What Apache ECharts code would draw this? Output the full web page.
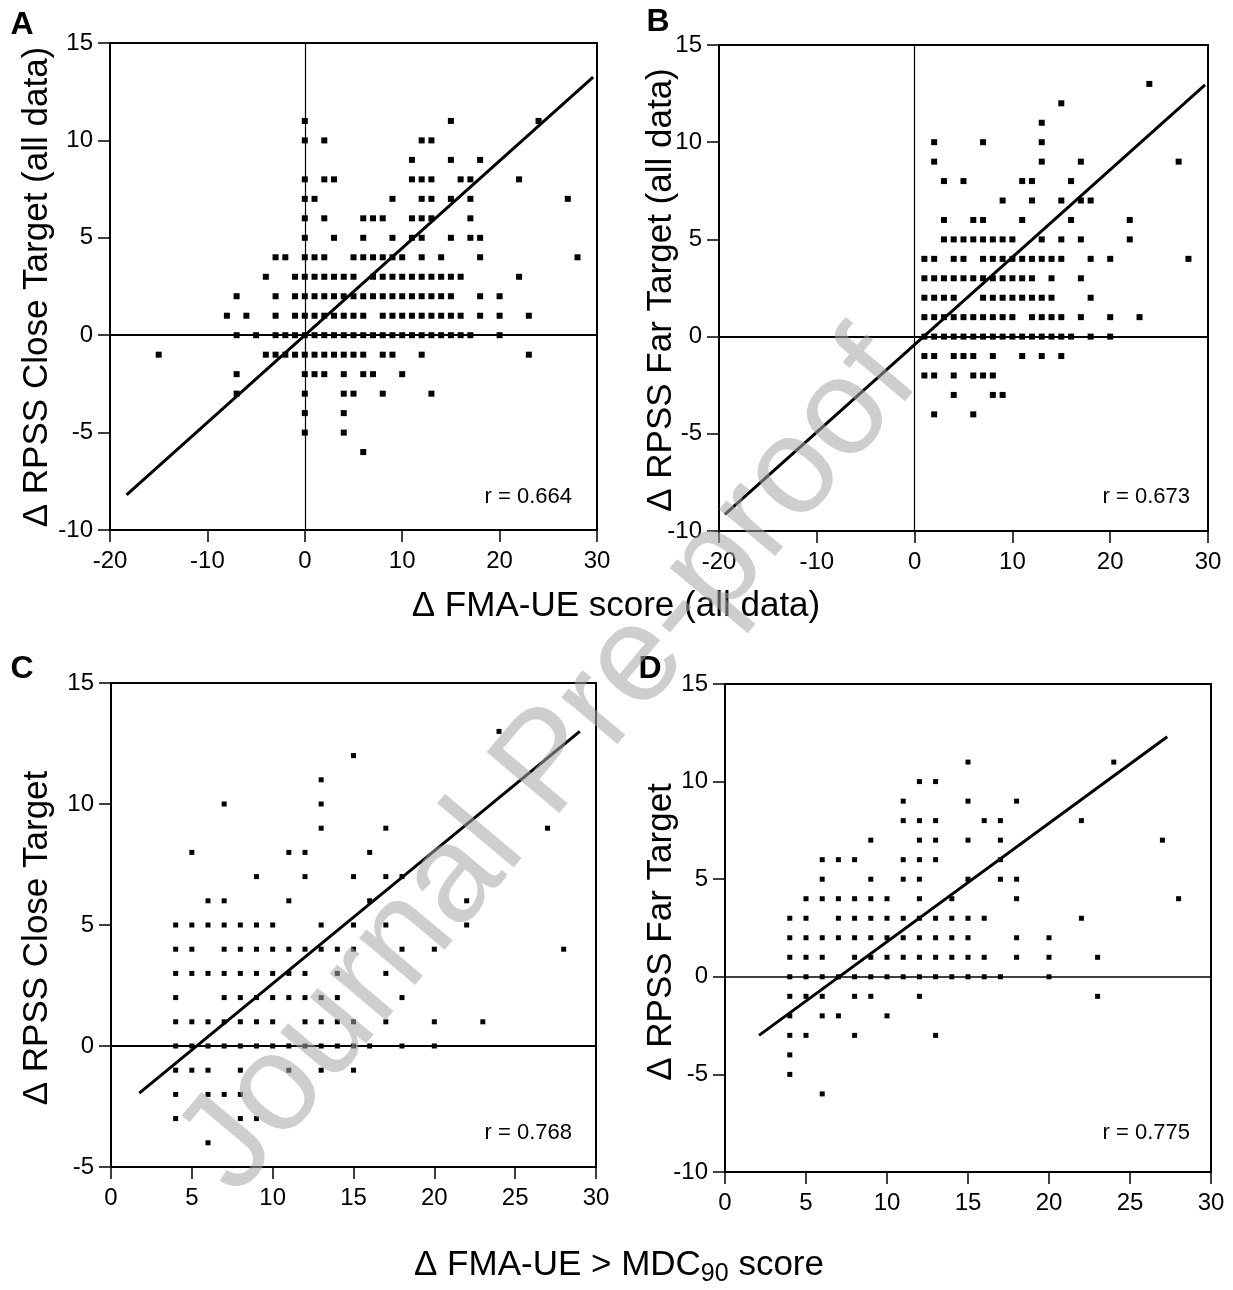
<!DOCTYPE html>
<html><head><meta charset="utf-8">
<script src="https://cdn.jsdelivr.net/npm/echarts@6/dist/echarts.min.js"></script>
<style>html,body{margin:0;padding:0;background:#fff}#c{width:1233px;height:1290px}</style>
</head><body><div id="c"></div>
<script>
const FONT = '"Liberation Sans", Arial, Helvetica, sans-serif';

// ---- DATA: each row = [y value, list of x values] ----
const rowsA = [
  [11, [0,15,24]],
  [10, [0,2,12,13]],
  [9,  [11,15,18]],
  [8,  [0,2,3,11,12,13,16,17,22]],
  [7,  [0,1,9,12,13,15,17,27]],
  [6,  [0,2,6,7,8,11,12,13,17]],
  [5,  [0,3,6,9,11,12,15,17,18]],
  [4,  [-3,-2,0,1,2,5,6,7,8,9,10,12,14,18,28]],
  [3,  [-4,-1,0,1,2,3,4,5,7,8,9,10,11,12,13,14,15,16,22]],
  [2,  [-7,-3,-1,0,1,2,3,4,5,6,7,8,9,10,11,12,13,14,15,18,20]],
  [1,  [-8,-6,-3,-1,0,1,2,3,4,5,6,8,9,10,11,12,13,14,15,16,18,20,23]],
  [0,  [-7,-5,-3,-2,-1,0,1,2,3,4,5,6,7,8,9,10,11,12,13,14,15,16,17,20]],
  [-1, [-15,-4,-3,-2,-1,0,1,2,3,4,5,6,8,9,12,23]],
  [-2, [-7,0,1,2,4,6,7,10]],
  [-3, [-7,0,4,5,8,13]],
  [-4, [0,4]],
  [-5, [0,4]],
  [-6, [6]]
];
const rowsB = [
  [13, [24]],
  [12, [15]],
  [11, [13]],
  [10, [2,7,13]],
  [9,  [2,13,17,27]],
  [8,  [3,5,11,12,16]],
  [7,  [9,12,15,17,18]],
  [6,  [3,6,7,11,16,22]],
  [5,  [3,4,5,6,7,8,9,10,13,15,17,22]],
  [4,  [1,2,4,5,7,8,9,10,11,12,13,14,15,18,20,28]],
  [3,  [1,2,3,4,5,6,7,8,9,10,11,12,14,17]],
  [2,  [1,2,3,4,7,8,9,10,11,12,13,14,18]],
  [1,  [1,2,3,4,5,6,7,8,9,10,12,13,14,15,17,20,23]],
  [0,  [1,2,3,4,5,6,7,8,9,10,11,12,13,14,15,16,18,20]],
  [-1, [1,2,4,5,6,8,11,13,15]],
  [-2, [1,2,4,6,7,8]],
  [-3, [4,8,9]],
  [-4, [2,6]]
];
const rowsC = [
  [13, [24]],
  [12, [15]],
  [11, [13]],
  [10, [7,13]],
  [9,  [13,17,27]],
  [8,  [5,11,12,16]],
  [7,  [9,12,15,17,18]],
  [6,  [6,7,11,16,22]],
  [5,  [4,5,6,7,8,9,10,13,15,17,22]],
  [4,  [4,5,7,8,9,10,11,12,13,14,15,18,20,28]],
  [3,  [4,5,6,7,8,9,10,11,12,14,17]],
  [2,  [4,7,8,9,10,11,12,13,14,18]],
  [1,  [4,5,6,7,8,9,10,12,13,14,15,17,20,23]],
  [0,  [4,5,6,7,8,9,10,11,12,13,14,15,16,18,20]],
  [-1, [4,5,6,8,11,13,15]],
  [-2, [4,6,7,8]],
  [-3, [4,8,9]],
  [-4, [6]]
];
const rowsD = [
  [11, [15,24]],
  [10, [12,13]],
  [9,  [11,15,18]],
  [8,  [11,12,13,16,17,22]],
  [7,  [9,12,13,15,17,27]],
  [6,  [6,7,8,11,12,13,17]],
  [5,  [6,9,11,12,15,17,18]],
  [4,  [5,6,7,8,9,10,12,14,18,28]],
  [3,  [4,5,7,8,9,10,11,12,13,14,15,16,22]],
  [2,  [4,5,6,7,8,9,10,11,12,13,14,15,18,20]],
  [1,  [4,5,6,8,9,10,11,12,13,14,15,16,18,20,23]],
  [0,  [4,5,6,7,8,9,10,11,12,13,14,15,16,17,20]],
  [-1, [4,5,6,8,9,12,23]],
  [-2, [4,6,7,10]],
  [-3, [4,5,8,13]],
  [-4, [4]],
  [-5, [4]],
  [-6, [6]]
];
// regression line end points
const fitA = [[-18.3, -8.2], [29.6, 13.25]];
const fitB = [[-19.4, -9.15], [29.7, 12.95]];
const fitC = [[1.75, -1.95], [29.0, 13.0]];
const fitD = [[2.1, -3.0], [27.3, 12.3]];
const rLabels = ['r = 0.664', 'r = 0.673', 'r = 0.768', 'r = 0.775'];
const xRangeAB = [-20, 30, 10];
const xRangeCD = [0, 30, 5];
const yRangeABD = [-10, 15, 5];
const yRangeC = [-5, 15, 5];
const yTitles = ['\u0394 RPSS Close Target (all data)', '\u0394 RPSS Far Target (all data)', '\u0394 RPSS Close Target', '\u0394 RPSS Far Target'];
const xTitleTop = '\u0394 FMA-UE score (all data)';
const xTitleBottom = ['\u0394 FMA-UE > MDC', '90', ' score'];
const panelLetters = ['A', 'B', 'C', 'D'];
const watermark = 'Journal Pre-proof';

// ---- build ----
function expand(rows) { const out = []; rows.forEach(([y, xs]) => xs.forEach(x => out.push([x, y]))); return out; }

const grids = [
  {left:110, top:43, width:487, height:487},
  {left:719, top:45, width:489, height:486},
  {left:111, top:683, width:485, height:484},
  {left:725, top:684, width:486, height:488}
];
const xr = [xRangeAB, xRangeAB, xRangeCD, xRangeCD];
const yr = [yRangeABD, yRangeABD, yRangeC, yRangeABD];
const rows = [rowsA, rowsB, rowsC, rowsD];
const fits = [fitA, fitB, fitC, fitD];
const symSize = [6, 6, 5, 5];
const zeroH = [2, 2, 2, 1.5];

const axisCommon = {
  type: 'value',
  axisLine: {show: true, onZero: false, lineStyle: {color: '#000', width: 2}},
  axisTick: {show: true, inside: false, length: 12, lineStyle: {color: '#000', width: 1.5}},
  splitLine: {show: false}
};

const option = {
  animation: false,
  backgroundColor: '#fff',
  grid: grids.map(g => Object.assign({show: true, borderColor: '#000', borderWidth: 2, backgroundColor: 'transparent'}, g)),
  xAxis: xr.map((r, i) => Object.assign({}, axisCommon, {
    gridIndex: i, min: r[0], max: r[1], interval: r[2],
    axisLabel: {color: '#000', fontSize: 24, fontFamily: FONT, margin: 19}
  })),
  yAxis: yr.map((r, i) => Object.assign({}, axisCommon, {
    gridIndex: i, min: r[0], max: r[1], interval: r[2],
    axisLabel: {color: '#000', fontSize: 24, fontFamily: FONT, margin: 17}
  })),
  series: []
};

rows.forEach((rw, i) => {
  const ml = [{yAxis: 0, lineStyle: {width: zeroH[i], color: '#000', type: 'solid'}}];
  if (i < 2) ml.push({xAxis: 0, lineStyle: {width: 1.2, color: '#000', type: 'solid'}});
  option.series.push({
    type: 'scatter', xAxisIndex: i, yAxisIndex: i,
    data: expand(rw), symbol: 'rect', symbolSize: symSize[i],
    itemStyle: {color: '#000', opacity: 1},
    markLine: {silent: true, symbol: 'none', label: {show: false}, animation: false, data: ml}
  });
  option.series.push({
    type: 'line', xAxisIndex: i, yAxisIndex: i, data: fits[i],
    symbol: 'none', showSymbol: false, lineStyle: {color: '#000', width: 3}, z: 3
  });
});

function txt(x, y, text, size, opts) {
  opts = opts || {};
  return {
    type: 'text', x: x, y: y, rotation: opts.rot || 0, z: opts.z || 10,
    style: {
      text: text, fill: opts.fill || '#000',
      font: (opts.weight || 'normal') + ' ' + size + 'px ' + FONT,
      fontSize: size, fontFamily: FONT, fontWeight: opts.weight || 'normal',
      textAlign: opts.align || 'center', align: opts.align || 'center',
      textVerticalAlign: 'middle', verticalAlign: 'middle'
    }
  };
}
const mctx = document.createElement('canvas').getContext('2d');
function measure(t, size) { mctx.font = size + 'px ' + FONT; return mctx.measureText(t).width; }

const TITLE = 35;
const yTitlePos = [[37, 287], [661, 290], [37, 938], [661, 932]];
const letterPos = [[22, 25], [658, 22], [22, 669], [650, 669]];
const rPos = [[572, 497], [1190, 497], [572, 1133], [1190, 1133]];

const graphics = [];
yTitles.forEach((t, i) => graphics.push(txt(yTitlePos[i][0], yTitlePos[i][1], t, TITLE, {rot: Math.PI / 2})));
panelLetters.forEach((t, i) => graphics.push(txt(letterPos[i][0], letterPos[i][1], t, 32, {weight: 'bold'})));
rLabels.forEach((t, i) => graphics.push(txt(rPos[i][0], rPos[i][1], t, 22, {align: 'right'})));
graphics.push(txt(616, 606, xTitleTop, TITLE));
(function () {
  const SUB = 25;
  const w1 = measure(xTitleBottom[0], TITLE), w2 = measure(xTitleBottom[1], SUB), w3 = measure(xTitleBottom[2], TITLE);
  let x0 = 619 - (w1 + w2 + w3) / 2;
  graphics.push(txt(x0, 1265, xTitleBottom[0], TITLE, {align: 'left'}));
  graphics.push(txt(x0 + w1, 1274, xTitleBottom[1], SUB, {align: 'left'}));
  graphics.push(txt(x0 + w1 + w2, 1265, xTitleBottom[2], TITLE, {align: 'left'}));
})();
graphics.push(txt(550, 765, watermark, 138, {rot: 50 * Math.PI / 180, fill: 'rgba(165,165,165,0.55)', z: 100}));
option.graphic = {elements: graphics};

const chart = echarts.init(document.getElementById('c'), null, {renderer: 'canvas'});
chart.setOption(option);
</script>
</body></html>
